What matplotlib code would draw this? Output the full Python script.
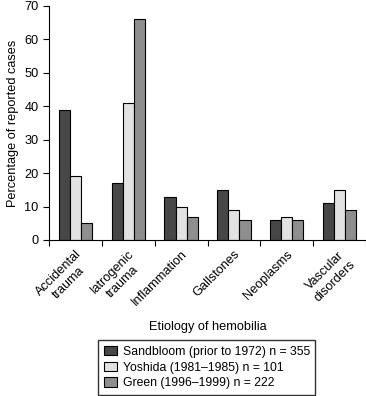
import numpy as np
import matplotlib
matplotlib.use("Agg")
import matplotlib.pyplot as plt

plt.rcParams['font.family'] = ['Liberation Sans', 'DejaVu Sans']

categories = ["Accidental\ntrauma", "Iatrogenic\ntrauma", "Inflammation",
              "Gallstones", "Neoplasms", "Vascular\ndisorders"]
sandbloom = [39, 17, 13, 15, 6, 11]
yoshida = [19, 41, 10, 9, 7, 15]
green = [5, 66, 7, 6, 6, 9]
series_labels = ["Sandbloom (prior to 1972) n = 355",
                 "Yoshida (1981\u20131985) n = 101",
                 "Green (1996\u20131999) n = 222"]
colors = ["#474747", "#e2e2e2", "#8e8e8e"]

fs = 9.2
fig = plt.figure(figsize=(3.66, 3.96), dpi=100)
ax = fig.add_axes([0.134, 0.394, 0.866, 0.591])

x = np.arange(len(categories))
w = 0.21
for i, (vals, lab, c) in enumerate(zip([sandbloom, yoshida, green], series_labels, colors)):
    ax.bar(x + (i - 1) * w, vals, width=w, color=c, edgecolor="black",
           linewidth=0.8, label=lab)

ax.set_xlim(-0.5, len(categories) - 0.5)
ax.set_ylim(0, 70)
ax.set_yticks(range(0, 71, 10))
ax.set_xticks(np.arange(len(categories) + 1) - 0.5)
ax.set_xticklabels([])
ax.set_xticks(x, minor=True)
ax.set_xticklabels(categories, minor=True, rotation=45, ha="right",
                   rotation_mode="anchor", ma="center", fontsize=fs)
ax.tick_params(axis="x", which="minor", length=0, pad=6)
ax.tick_params(axis="x", which="major", length=4, direction="out")
ax.tick_params(axis="y", length=4, labelsize=fs)
ax.spines["top"].set_visible(False)
ax.spines["right"].set_visible(False)
ax.set_ylabel("Percentage of reported cases", fontsize=fs)
ax.set_xlabel("Etiology of hemobilia", fontsize=fs, labelpad=9)

fig.legend(loc="lower center", bbox_to_anchor=(0.565, 0.0), frameon=True,
           fancybox=False, edgecolor="black", fontsize=8.8,
           handlelength=1.05, handleheight=0.8, handletextpad=0.5,
           borderpad=0.45, labelspacing=0.3, borderaxespad=0.1)

fig.savefig("out.png", dpi=100)
